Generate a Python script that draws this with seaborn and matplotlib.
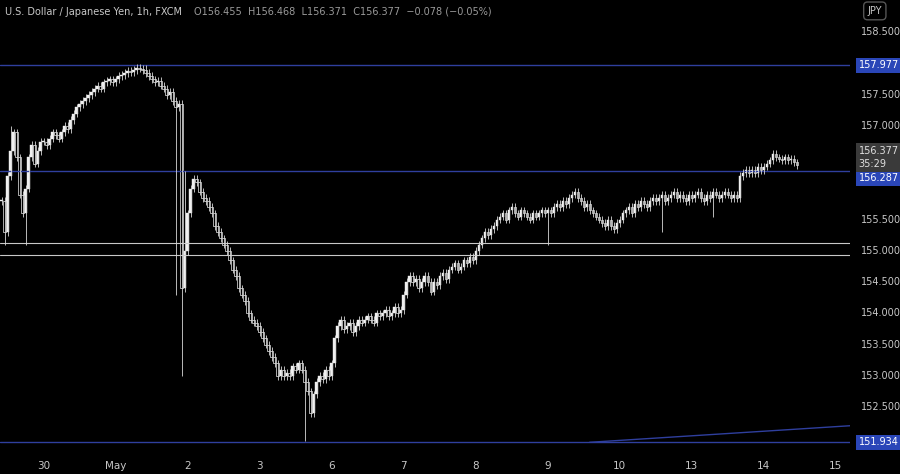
import numpy as np
import pandas as pd
import matplotlib
matplotlib.use("Agg")
import matplotlib.pyplot as plt
import seaborn as sns

pre = [155.8,155.3,156.2,156.6,156.9,156.5,155.9,155.6,156.0,156.5,156.7,156.4,156.6,156.75]
apr30 = [156.75,156.7,156.8,156.9,156.85,156.8,156.9,157.0,156.95,157.1,157.2,157.3,157.35,157.4,157.45,157.5,157.55,157.6,157.65,157.6,157.7,157.72,157.75,157.7]
may1 = [157.75,157.8,157.82,157.85,157.88,157.86,157.9,157.93,157.92,157.9,157.85,157.8,157.75,157.7,157.72,157.65,157.6,157.5,157.55,157.4,157.3,157.35,154.4,155.0]
may2 = [155.6,156.0,156.15,156.1,155.95,155.85,155.8,155.7,155.6,155.4,155.3,155.2,155.1,155.0,154.85,154.7,154.6,154.4,154.3,154.2,154.0,153.9,153.85,153.8]
may3 = [153.7,153.6,153.5,153.4,153.3,153.2,153.0,153.1,153.0,153.05,153.0,153.15,153.1,153.2,153.1,152.9,152.75,152.4,152.7,152.9,153.0,152.95,153.1,153.0]
may6 = [153.2,153.6,153.8,153.9,153.75,153.8,153.85,153.7,153.8,153.9,153.85,153.9,153.95,153.9,153.85,154.0,153.95,154.0,154.05,153.95,154.0,154.1,154.0,154.05]
may7 = [154.3,154.5,154.6,154.5,154.55,154.4,154.5,154.6,154.5,154.35,154.5,154.45,154.6,154.65,154.55,154.7,154.75,154.8,154.7,154.75,154.85,154.8,154.9,154.85]
may8 = [155.0,155.1,155.2,155.3,155.25,155.35,155.4,155.5,155.55,155.6,155.5,155.65,155.7,155.6,155.55,155.65,155.6,155.55,155.5,155.6,155.55,155.6,155.65,155.6]
may9 = [155.65,155.6,155.7,155.75,155.7,155.8,155.75,155.85,155.9,155.95,155.85,155.8,155.7,155.75,155.65,155.6,155.55,155.5,155.45,155.4,155.5,155.4,155.35,155.45]
may10 = [155.5,155.6,155.65,155.7,155.6,155.75,155.7,155.8,155.75,155.7,155.8,155.85,155.8,155.85,155.9,155.8,155.85,155.9,155.95,155.85,155.9,155.85,155.8,155.9]
may13 = [155.85,155.9,155.95,155.85,155.8,155.9,155.85,155.95,155.9,155.85,155.9,155.95,155.9,155.85,155.9,155.85,156.2,156.25,156.3,156.25,156.3,156.25,156.35,156.3]
may14 = [156.35,156.4,156.45,156.55,156.5,156.48,156.45,156.5,156.45,156.48,156.42,156.377]
closes = pre + apr30 + may1 + may2 + may3 + may6 + may7 + may8 + may9 + may10 + may13 + may14

# notable wick extremes (index: price)
wick_highs = {3: 157.0, 48: 157.977, 61: 156.287}
wick_lows = {1: 155.1, 8: 155.1, 60: 153.0, 58: 154.3, 101: 151.95, 125: 153.8, 182: 155.1, 220: 155.3, 237: 155.55}

tick_labels = ["30", "May", "2", "3", "6", "7", "8", "9", "10", "13", "14", "15"]
tick_idx = [14, 38, 62, 86, 110, 134, 158, 182, 206, 230, 254, 278]
levels_blue = [157.977, 156.287, 151.934]
levels_white = [155.12, 154.94]
scale_ticks = [158.5, 157.5, 157.0, 155.5, 155.0, 154.5, 154.0, 153.5, 153.0, 152.5]

sns.set_style("dark", {"axes.facecolor": "black", "figure.facecolor": "black"})
plt.rcParams['font.family'] = ['DejaVu Sans']

n = len(closes)
df = pd.DataFrame({"i": np.arange(n), "close": closes})
df["open"] = df["close"].shift(1).fillna(df["close"].iloc[0])
wick = 0.06
df["high"] = df[["open", "close"]].max(axis=1) + wick
df["low"] = df[["open", "close"]].min(axis=1) - wick
for k, v in wick_highs.items():
    df.loc[k, "high"] = max(df.loc[k, "high"], v)
for k, v in wick_lows.items():
    df.loc[k, "low"] = min(df.loc[k, "low"], v)

fig = plt.figure(figsize=(9, 4.74), dpi=100, facecolor="black")
ax = fig.add_axes([0, 0.04, 850/900, 0.96])
ax.set_facecolor("black")

blue = "#2f3f9e"
for lv in levels_blue:
    ax.axhline(lv, color=blue, lw=1)
for lv in levels_white:
    ax.axhline(lv, color="#c8c8c8", lw=0.8)
ax.plot([196, 283], [151.934, 152.2], color=blue, lw=1)

ax.vlines(df["i"], df["low"], df["high"], color="#d8d8d8", lw=0.6)
up = df["close"] >= df["open"]
bot = df[["open", "close"]].min(axis=1)
hgt = (df["close"] - df["open"]).abs().clip(lower=0.012)
ax.bar(df["i"][up], hgt[up], bottom=bot[up], width=0.7, color="#f0f0f0", edgecolor="#f0f0f0", lw=0.3)
ax.bar(df["i"][~up], hgt[~up], bottom=bot[~up], width=0.7, color="black", edgecolor="#f0f0f0", lw=0.5)

ax.set_xlim(-0.5, 282.8)
ax.set_ylim(151.73, 159.02)
ax.set_xticks(tick_idx)
ax.set_xticklabels(tick_labels, color="#c8c8c8", fontsize=7.5)
ax.tick_params(axis="x", length=0, pad=4)
ax.set_yticks([])
for s in ax.spines.values():
    s.set_visible(False)
ax.grid(False)

for p in scale_ticks:
    ax.text(1.013, p, f"{p:.3f}", transform=ax.get_yaxis_transform(), color="#c8c8c8",
            fontsize=7, va="center", ha="left")
def tag(p, txt, fc, tc="white", dy=0.0):
    ax.text(1.01, p + dy, txt, transform=ax.get_yaxis_transform(), color=tc, fontsize=7,
            va="center", ha="left", linespacing=1.4,
            bbox=dict(boxstyle="square,pad=0.25", fc=fc, ec="none"))
tag(157.977, "157.977", "#2a46b8")
tag(156.287, "156.287", "#2a46b8", dy=-0.12)
tag(151.934, "151.934", "#2a46b8")
tag(156.377, "156.377\n35:29", "#3a3a3a", tc="#e0e0e0", dy=0.12)

fig.text(0.006, 0.975, "U.S. Dollar / Japanese Yen, 1h, FXCM", color="#c8c8c8", fontsize=7, va="center")
fig.text(0.215, 0.975, "O156.455  H156.468  L156.371  C156.377  \u22120.078 (\u22120.05%)",
         color="#9a9a9a", fontsize=7, va="center")
fig.text(0.972, 0.977, "JPY", color="#c8c8c8", fontsize=7, va="center", ha="center",
         bbox=dict(boxstyle="round,pad=0.4", fc="black", ec="#555555"))

fig.savefig("out.png", dpi=100, facecolor="black")
